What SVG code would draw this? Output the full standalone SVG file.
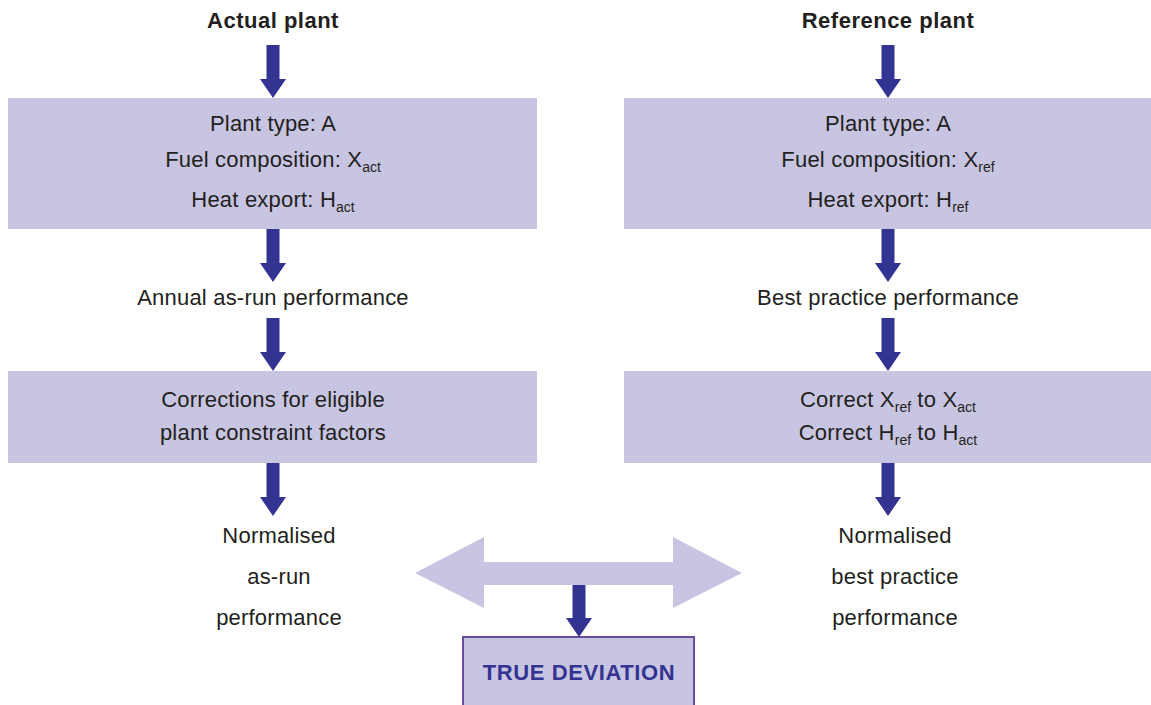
<svg xmlns="http://www.w3.org/2000/svg" width="1151" height="705" viewBox="0 0 1151 705">
<style>
.box{fill:#c8c5e2;}
.arr{fill:#333391;}
.t{font-family:"Liberation Sans",Arial,sans-serif;font-size:22px;letter-spacing:0.2px;fill:#231f20;text-anchor:middle;}
.b{font-weight:bold;letter-spacing:0.5px;}
.s{font-size:14px;letter-spacing:0;}
.dev{font-family:"Liberation Sans",Arial,sans-serif;font-size:22px;font-weight:bold;letter-spacing:0.6px;fill:#333391;text-anchor:middle;}
</style>
<rect width="1151" height="705" fill="#ffffff"/>
<g id="title-actual"><text class="t b" x="273" y="28">Actual plant</text></g>
<g id="title-reference"><text class="t b" x="888" y="28">Reference plant</text></g>
<g id="box-actual">
<rect class="box" x="8" y="98" width="529" height="131"/>
<text class="t" x="273" y="131">Plant type: A</text>
<text class="t" x="273" y="167">Fuel composition: X<tspan class="s" dy="5">act</tspan></text>
<text class="t" x="273" y="207">Heat export: H<tspan class="s" dy="5">act</tspan></text>
</g>
<g id="box-reference">
<rect class="box" x="624" y="98" width="527" height="131"/>
<text class="t" x="888" y="131">Plant type: A</text>
<text class="t" x="888" y="167">Fuel composition: X<tspan class="s" dy="5">ref</tspan></text>
<text class="t" x="888" y="207">Heat export: H<tspan class="s" dy="5">ref</tspan></text>
</g>
<g id="perf-actual"><text class="t" x="273" y="305">Annual as-run performance</text></g>
<g id="perf-reference"><text class="t" x="888" y="305">Best practice performance</text></g>
<g id="corr-actual">
<rect class="box" x="8" y="371" width="529" height="92"/>
<text class="t" x="273" y="407">Corrections for eligible</text>
<text class="t" x="273" y="440">plant constraint factors</text>
</g>
<g id="corr-reference">
<rect class="box" x="624" y="371" width="527" height="92"/>
<text class="t" x="888" y="407">Correct X<tspan class="s" dy="5">ref</tspan><tspan dy="-5"> to X</tspan><tspan class="s" dy="5">act</tspan></text>
<text class="t" x="888" y="440">Correct H<tspan class="s" dy="5">ref</tspan><tspan dy="-5"> to H</tspan><tspan class="s" dy="5">act</tspan></text>
</g>
<g id="norm-actual">
<text class="t" x="279" y="543">Normalised</text>
<text class="t" x="279" y="584">as-run</text>
<text class="t" x="279" y="625">performance</text>
</g>
<g id="norm-reference">
<text class="t" x="895" y="543">Normalised</text>
<text class="t" x="895" y="584">best practice</text>
<text class="t" x="895" y="625">performance</text>
</g>
<g id="true-deviation">
<rect x="463" y="637" width="231" height="80" fill="#c8c5e2" stroke="#6a4c9c" stroke-width="2"/>
<text class="dev" x="579" y="680">TRUE DEVIATION</text>
</g>
<g id="connectors">
<polygon fill="#c8c5e2" points="415,573 484,537 484,562 673,562 673,537 742,573 673,608 673,585 484,585 484,608"/>
<polygon class="arr" points="266.5,45 279.5,45 279.5,79 286,79 273,98 260,79 266.5,79"/>
<polygon class="arr" points="266.5,229 279.5,229 279.5,263 286,263 273,282 260,263 266.5,263"/>
<polygon class="arr" points="266.5,318 279.5,318 279.5,352 286,352 273,371 260,352 266.5,352"/>
<polygon class="arr" points="266.5,463 279.5,463 279.5,497 286,497 273,516 260,497 266.5,497"/>
<polygon class="arr" points="881.5,45 894.5,45 894.5,79 901,79 888,98 875,79 881.5,79"/>
<polygon class="arr" points="881.5,229 894.5,229 894.5,263 901,263 888,282 875,263 881.5,263"/>
<polygon class="arr" points="881.5,318 894.5,318 894.5,352 901,352 888,371 875,352 881.5,352"/>
<polygon class="arr" points="881.5,463 894.5,463 894.5,497 901,497 888,516 875,497 881.5,497"/>
<polygon class="arr" points="572.5,585 585.5,585 585.5,618 592,618 579,637 566,618 572.5,618"/>
</g>
</svg>
